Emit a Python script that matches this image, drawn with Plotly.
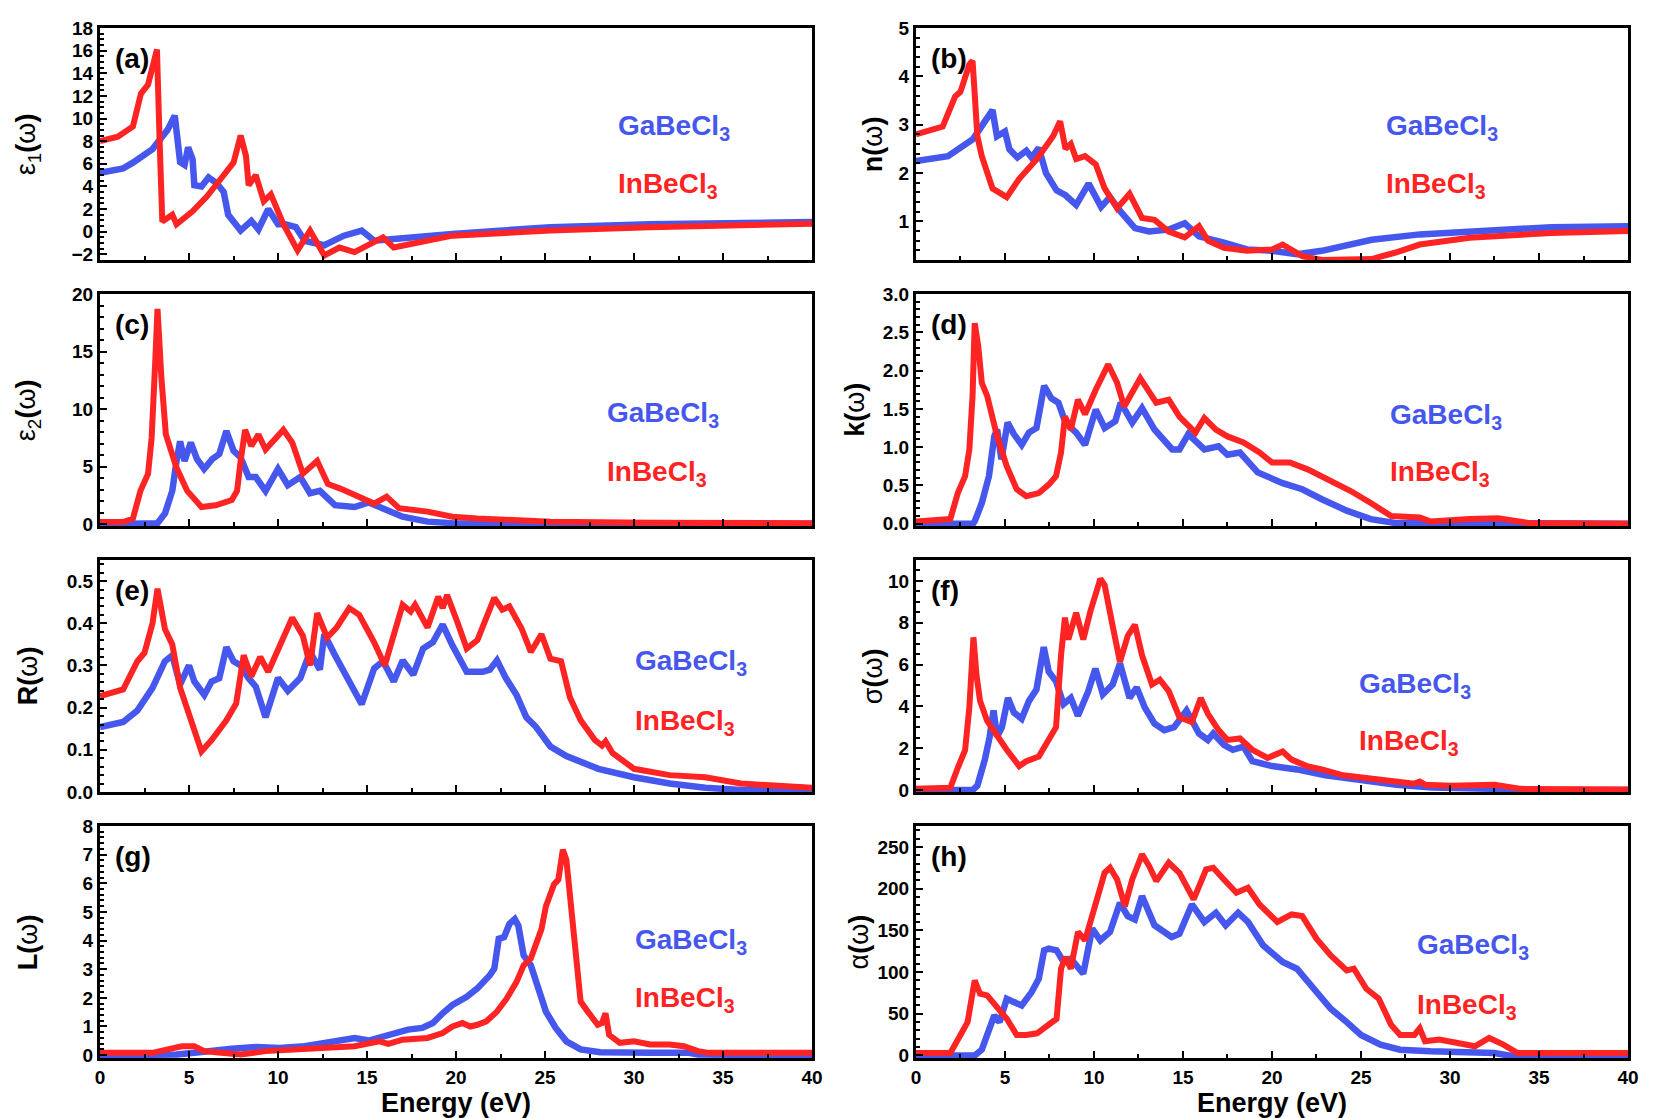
import plotly.graph_objects as go
from plotly.subplots import make_subplots

# (a) epsilon1
a_ga_e = [0, 1.3, 1.85, 2.95, 3.8, 4.2, 4.5, 4.75, 4.95, 5.2, 5.3, 5.7, 6.1, 6.55, 6.95, 7.2, 7.9, 8.5, 8.9, 9.45, 10.0, 10.4, 11.0, 11.5, 12.6, 13.7, 14.7, 15.4, 16.5, 19.8, 25.3, 30.9, 40]
a_ga_v = [5.2, 5.6, 6.1, 7.3, 9.0, 10.25, 6.15, 5.9, 7.45, 6.4, 4.1, 4.0, 4.8, 4.3, 3.5, 1.5, 0.1, 0.95, 0.2, 2.0, 0.65, 0.65, 0.4, -0.8, -1.2, -0.35, 0.1, -0.8, -0.65, -0.2, 0.4, 0.66, 0.85]
a_in_e = [0, 1.0, 1.85, 2.3, 2.7, 2.95, 3.2, 3.35, 3.5, 4.06, 4.3, 5.2, 6.0, 6.8, 7.5, 7.9, 8.2, 8.35, 8.75, 9.2, 9.6, 10.3, 11.1, 11.8, 12.6, 13.45, 14.3, 15.9, 16.5, 19.8, 25.3, 30.9, 38.3, 40]
a_in_v = [8.0, 8.4, 9.3, 12.2, 13.0, 14.5, 16.1, 8.0, 0.9, 1.5, 0.66, 1.8, 3.1, 4.7, 6.1, 8.5, 6.7, 4.1, 5.0, 2.7, 3.3, 0.66, -1.65, 0.1, -2.1, -1.4, -1.8, -0.5, -1.4, -0.35, 0.1, 0.4, 0.66, 0.7]

# (b) n
b_ga_e = [0, 1.8, 3.2, 4.0, 4.3, 4.55, 5.0, 5.25, 5.7, 6.2, 6.5, 6.9, 7.3, 7.9, 8.4, 9.0, 9.7, 10.4, 10.9, 11.5, 12.3, 13.1, 14.2, 15.1, 15.9, 17.3, 18.6, 20.0, 21.4, 22.8, 24.2, 25.6, 28.3, 31.1, 35.7, 40]
b_ga_v = [2.25, 2.35, 2.7, 3.17, 3.3, 2.76, 2.86, 2.49, 2.32, 2.46, 2.32, 2.52, 2.0, 1.64, 1.54, 1.34, 1.78, 1.3, 1.5, 1.2, 0.86, 0.79, 0.83, 0.96, 0.69, 0.56, 0.42, 0.39, 0.32, 0.39, 0.52, 0.62, 0.73, 0.79, 0.88, 0.9]
b_in_e = [0, 1.5, 2.2, 2.5, 3.0, 3.18, 3.3, 3.45, 3.7, 4.3, 5.1, 5.8, 6.8, 7.7, 8.1, 8.4, 8.7, 9.0, 9.5, 10.1, 10.6, 11.3, 12.0, 12.7, 13.4, 14.2, 15.1, 15.9, 16.4, 17.3, 18.6, 20.0, 20.6, 21.7, 22.8, 24.2, 25.6, 26.9, 28.3, 31.1, 35.7, 40]
b_in_v = [2.8, 2.96, 3.58, 3.68, 4.25, 4.32, 3.64, 2.76, 2.35, 1.68, 1.5, 1.88, 2.29, 2.76, 3.07, 2.5, 2.6, 2.29, 2.35, 2.18, 1.68, 1.27, 1.57, 1.07, 1.03, 0.79, 0.67, 0.9, 0.6, 0.45, 0.39, 0.42, 0.52, 0.28, 0.2, 0.22, 0.22, 0.35, 0.52, 0.66, 0.76, 0.8]

# (c) epsilon2
c_ga_e = [0, 3.0, 3.23, 3.65, 4.06, 4.3, 4.5, 4.75, 5.1, 5.45, 5.85, 6.3, 6.7, 7.1, 7.5, 7.9, 8.35, 8.75, 9.3, 10.0, 10.55, 11.25, 11.8, 12.35, 13.2, 14.3, 15.1, 15.9, 17.0, 18.4, 19.8, 25.0, 40]
c_ga_v = [0.0, 0.0, 0.1, 0.94, 2.9, 5.5, 7.2, 5.5, 7.1, 5.66, 4.8, 5.66, 6.1, 8.1, 6.4, 5.8, 4.1, 4.1, 2.9, 4.8, 3.4, 4.1, 2.7, 2.9, 1.66, 1.5, 1.9, 1.37, 0.66, 0.23, 0.1, 0.05, 0.05]
c_in_e = [0, 1.3, 1.85, 2.27, 2.7, 2.9, 3.1, 3.23, 3.45, 3.7, 4.3, 4.9, 5.7, 6.5, 7.4, 7.7, 7.9, 8.15, 8.5, 8.9, 9.3, 10.3, 10.8, 11.4, 12.2, 12.8, 13.5, 14.3, 15.4, 16.1, 16.8, 18.4, 19.8, 21.2, 22.6, 25.3, 30.9, 40]
c_in_v = [0.2, 0.2, 0.5, 2.9, 4.4, 7.5, 14.0, 18.7, 12.7, 7.8, 4.9, 2.9, 1.5, 1.65, 2.1, 2.9, 5.5, 8.2, 6.8, 7.8, 6.5, 8.2, 7.1, 4.4, 5.5, 3.5, 3.1, 2.5, 1.8, 2.4, 1.4, 1.1, 0.66, 0.5, 0.37, 0.23, 0.14, 0.1]

# (d) k
d_ga_e = [0, 3.2, 3.3, 3.7, 4.1, 4.4, 4.56, 4.8, 5.15, 5.5, 5.94, 6.35, 6.77, 7.2, 7.6, 8.0, 8.4, 9.0, 9.5, 10.1, 10.6, 11.2, 11.5, 12.15, 12.7, 13.4, 14.4, 14.8, 15.3, 16.2, 17.0, 17.5, 18.2, 19.2, 20.6, 21.7, 22.8, 24.2, 25.55, 26.9, 40]
d_ga_v = [0.0, 0.0, 0.03, 0.27, 0.62, 1.14, 1.23, 0.84, 1.32, 1.17, 1.03, 1.19, 1.25, 1.8, 1.64, 1.58, 1.32, 1.19, 1.03, 1.49, 1.25, 1.34, 1.58, 1.32, 1.51, 1.23, 0.97, 0.97, 1.17, 0.97, 1.01, 0.9, 0.93, 0.67, 0.53, 0.45, 0.32, 0.17, 0.06, 0.01, 0.0]
d_in_e = [0, 1.93, 2.35, 2.76, 3.0, 3.18, 3.3, 3.5, 3.7, 4.0, 4.56, 5.1, 5.66, 6.2, 6.9, 7.46, 7.87, 8.15, 8.37, 8.7, 9.1, 9.5, 10.1, 10.8, 11.3, 11.7, 12.6, 13.5, 14.2, 14.8, 15.7, 16.2, 16.85, 17.5, 18.4, 19.3, 20.0, 21.0, 22.0, 23.1, 24.4, 25.55, 26.7, 28.3, 28.9, 31.1, 32.7, 34.4, 40]
d_in_v = [0.03, 0.06, 0.4, 0.62, 0.97, 1.67, 2.62, 2.32, 1.84, 1.67, 1.14, 0.75, 0.45, 0.36, 0.4, 0.51, 0.62, 0.93, 1.4, 1.23, 1.62, 1.43, 1.75, 2.08, 1.84, 1.53, 1.9, 1.58, 1.62, 1.4, 1.19, 1.38, 1.23, 1.14, 1.06, 0.93, 0.8, 0.8, 0.71, 0.58, 0.43, 0.27, 0.1, 0.08, 0.03, 0.06, 0.07, 0.01, 0.0]

# (e) R
e_ga_e = [0, 1.3, 2.1, 2.95, 3.65, 4.06, 4.5, 5.0, 5.3, 5.86, 6.27, 6.7, 7.1, 7.5, 7.9, 8.34, 8.75, 9.3, 10.0, 10.55, 11.25, 11.8, 12.35, 12.6, 13.2, 14.0, 14.7, 15.4, 15.9, 16.5, 17.0, 17.6, 18.15, 18.7, 19.25, 19.8, 20.6, 21.5, 21.9, 22.3, 22.8, 23.4, 23.95, 24.5, 25.3, 26.2, 27.0, 28.0, 30.0, 32.0, 34.0, 36.0, 40]
e_ga_v = [0.154, 0.166, 0.193, 0.247, 0.31, 0.324, 0.255, 0.30, 0.262, 0.23, 0.262, 0.27, 0.343, 0.31, 0.30, 0.27, 0.25, 0.177, 0.27, 0.24, 0.27, 0.332, 0.29, 0.374, 0.324, 0.262, 0.208, 0.293, 0.31, 0.262, 0.312, 0.278, 0.34, 0.355, 0.397, 0.347, 0.285, 0.285, 0.29, 0.312, 0.27, 0.23, 0.177, 0.154, 0.108, 0.085, 0.07, 0.055, 0.035, 0.02, 0.01, 0.005, 0.005]
e_in_e = [0, 1.3, 2.1, 2.5, 2.95, 3.23, 3.65, 4.06, 4.5, 5.2, 5.7, 6.27, 7.1, 7.65, 8.07, 8.5, 9.0, 9.45, 10.0, 10.8, 11.4, 11.8, 12.2, 12.76, 13.3, 14.0, 14.56, 15.4, 16.0, 16.5, 17.0, 17.45, 17.7, 18.4, 19.0, 19.25, 19.5, 20.1, 20.6, 21.2, 21.6, 22.15, 22.6, 23.0, 23.7, 24.2, 24.8, 25.3, 25.9, 26.4, 27.0, 27.8, 28.2, 28.4, 28.8, 30.0, 32.0, 34.0, 36.0, 38.0, 40]
e_in_v = [0.227, 0.243, 0.31, 0.33, 0.40, 0.482, 0.386, 0.35, 0.247, 0.154, 0.096, 0.123, 0.17, 0.21, 0.324, 0.274, 0.32, 0.285, 0.34, 0.413, 0.37, 0.30, 0.424, 0.366, 0.39, 0.436, 0.42, 0.355, 0.30, 0.378, 0.444, 0.428, 0.444, 0.39, 0.463, 0.436, 0.467, 0.40, 0.34, 0.36, 0.40, 0.46, 0.432, 0.44, 0.386, 0.332, 0.374, 0.316, 0.31, 0.224, 0.17, 0.123, 0.11, 0.12, 0.092, 0.055, 0.04, 0.035, 0.02, 0.015, 0.01]

# (f) sigma
f_ga_e = [0, 3.2, 3.45, 3.87, 4.14, 4.36, 4.56, 4.83, 5.17, 5.5, 5.94, 6.35, 6.77, 7.18, 7.46, 7.87, 8.29, 8.7, 9.1, 9.67, 10.08, 10.5, 11.05, 11.46, 12.0, 12.4, 12.85, 13.4, 13.95, 14.5, 15.2, 15.9, 16.4, 16.7, 17.3, 17.8, 18.4, 18.9, 20.0, 21.4, 23.0, 25.0, 27.0, 29.0, 31.0, 33.0, 35.0, 40]
f_ga_v = [0.0, 0.0, 0.2, 1.45, 2.54, 3.8, 2.54, 3.0, 4.4, 3.7, 3.4, 4.26, 4.8, 6.83, 5.66, 5.2, 4.1, 4.4, 3.55, 4.7, 5.8, 4.57, 5.04, 6.05, 4.4, 4.9, 3.95, 3.17, 2.86, 3.0, 3.8, 2.7, 2.39, 2.7, 2.15, 1.92, 2.07, 1.37, 1.14, 0.98, 0.7, 0.45, 0.25, 0.12, 0.06, 0.03, 0.0, 0.0]
f_in_e = [0, 1.5, 1.93, 2.35, 2.76, 3.0, 3.23, 3.4, 3.6, 4.0, 4.56, 5.1, 5.8, 6.2, 6.9, 7.46, 7.87, 8.15, 8.37, 8.56, 9.0, 9.4, 9.8, 10.36, 10.6, 11.05, 11.46, 11.9, 12.3, 12.7, 13.26, 13.7, 14.2, 14.8, 15.5, 16.0, 16.4, 17.0, 17.5, 18.2, 18.9, 19.75, 20.6, 21.1, 21.96, 22.8, 24.0, 26.0, 28.0, 28.3, 28.6, 30.0, 32.5, 34.0, 40]
f_in_v = [0.05, 0.05, 0.1, 1.06, 1.9, 3.95, 7.3, 5.5, 4.26, 3.3, 2.54, 1.92, 1.14, 1.37, 1.6, 2.39, 3.0, 6.44, 8.24, 7.2, 8.47, 7.2, 8.55, 10.1, 9.8, 7.85, 6.13, 7.38, 7.9, 6.44, 5.04, 5.27, 4.73, 3.48, 3.25, 4.4, 3.64, 2.86, 2.39, 2.46, 1.92, 1.53, 1.84, 1.45, 1.14, 0.98, 0.7, 0.5, 0.3, 0.4, 0.25, 0.2, 0.25, 0.05, 0.02]

# (g) L
g_ga_e = [0, 3.5, 4.3, 5.3, 6.0, 7.4, 8.76, 10.1, 11.5, 12.9, 14.3, 15.1, 15.9, 16.8, 17.3, 18.1, 18.7, 19.25, 19.8, 20.6, 21.2, 21.9, 22.15, 22.4, 22.7, 23.0, 23.3, 23.5, 23.8, 24.2, 24.6, 25.05, 25.6, 26.2, 27.0, 28.1, 30.9, 33.1, 33.6, 40]
g_ga_v = [0.0, 0.0, 0.02, 0.08, 0.14, 0.22, 0.28, 0.25, 0.31, 0.46, 0.6, 0.51, 0.66, 0.77, 0.89, 0.95, 1.12, 1.46, 1.75, 2.04, 2.33, 2.79, 3.02, 4.06, 4.12, 4.58, 4.75, 4.52, 3.48, 3.14, 2.44, 1.52, 0.95, 0.48, 0.2, 0.1, 0.08, 0.08, 0.02, 0.0]
g_in_e = [0, 2.95, 3.8, 4.6, 5.3, 5.86, 6.8, 7.9, 9.3, 11.0, 12.6, 14.3, 15.7, 16.2, 17.0, 18.4, 19.25, 19.8, 20.36, 20.8, 21.2, 21.7, 22.3, 22.85, 23.4, 23.8, 24.2, 24.8, 25.05, 25.5, 25.75, 26.0, 26.2, 26.4, 26.7, 27.0, 27.4, 27.96, 28.2, 28.4, 28.6, 29.2, 30.0, 30.9, 32.0, 32.8, 33.6, 34.2, 40]
g_in_v = [0.08, 0.08, 0.2, 0.31, 0.31, 0.14, 0.08, 0.02, 0.14, 0.2, 0.25, 0.31, 0.48, 0.39, 0.54, 0.6, 0.77, 1.0, 1.12, 1.0, 1.06, 1.18, 1.52, 1.98, 2.56, 3.14, 3.37, 4.4, 5.2, 5.96, 6.13, 7.17, 6.82, 5.44, 3.48, 1.87, 1.52, 1.06, 1.12, 1.46, 0.71, 0.43, 0.48, 0.37, 0.37, 0.31, 0.14, 0.08, 0.08]

# (h) alpha
h_ga_e = [0, 3.3, 3.7, 4.1, 4.4, 4.7, 5.1, 5.5, 5.94, 6.5, 6.9, 7.2, 7.46, 7.9, 8.3, 8.7, 9.4, 9.9, 10.36, 10.9, 11.46, 11.9, 12.3, 12.7, 13.4, 14.36, 14.8, 15.5, 16.2, 16.85, 17.4, 18.1, 18.65, 19.5, 20.6, 21.4, 22.5, 23.3, 24.2, 25.0, 26.1, 27.2, 28.9, 31.1, 32.5, 33.3, 40]
h_ga_v = [0, 0, 7, 28.6, 48, 40, 68, 64, 60, 76, 92, 126, 128, 126, 112, 116, 98, 152, 138, 148, 183, 167, 163, 191, 156, 142, 146, 181, 160, 171, 156, 171, 160, 132, 112, 104, 76, 56, 40, 24.6, 13, 7, 5, 4, 3, 0, 0]
h_in_e = [0, 1.93, 2.5, 2.9, 3.3, 3.6, 4.0, 4.56, 5.1, 5.66, 6.2, 6.8, 7.46, 7.9, 8.15, 8.4, 8.7, 9.1, 9.5, 10.1, 10.6, 10.9, 11.3, 11.74, 12.15, 12.7, 13.1, 13.5, 14.2, 14.8, 15.6, 16.3, 16.7, 17.3, 18.0, 18.65, 19.3, 20.3, 21.1, 21.7, 22.5, 23.3, 24.2, 24.6, 25.3, 26.0, 26.7, 27.2, 28.0, 28.3, 28.6, 29.4, 30.5, 31.4, 32.2, 33.0, 33.8, 40]
h_in_v = [3, 3, 24.6, 40, 90, 74, 72, 58, 44, 24.6, 24.6, 26.6, 36.5, 44, 104, 118, 104, 148, 138, 183, 219, 225, 211, 179, 211, 241, 227, 209, 231, 219, 187, 223, 225, 211, 195, 201, 181, 160, 169, 167, 140, 120, 102, 104, 80, 68, 36.5, 24.6, 24.6, 32.5, 17, 19, 15, 11, 21, 13, 3, 3]

panels = [
    ("(a)", "ε<sub>1</sub><b>(</b>ω<b>)</b>", a_ga_e, a_ga_v, a_in_e, a_in_v, [-2.5, 18], 2, None),
    ("(b)", "<b>n(</b>ω<b>)</b>", b_ga_e, b_ga_v, b_in_e, b_in_v, [0.2, 5], 1, None),
    ("(c)", "ε<sub>2</sub><b>(</b>ω<b>)</b>", c_ga_e, c_ga_v, c_in_e, c_in_v, [-0.15, 20], 5, None),
    ("(d)", "<b>k(</b>ω<b>)</b>", d_ga_e, d_ga_v, d_in_e, d_in_v, [-0.03, 3.0], 0.5, ".1f"),
    ("(e)", "<b>R(</b>ω<b>)</b>", e_ga_e, e_ga_v, e_in_e, e_in_v, [0.0, 0.55], 0.1, ".1f"),
    ("(f)", "σ<b>(</b>ω<b>)</b>", f_ga_e, f_ga_v, f_in_e, f_in_v, [-0.1, 11], 2, None),
    ("(g)", "<b>L(</b>ω<b>)</b>", g_ga_e, g_ga_v, g_in_e, g_in_v, [-0.1, 8], 1, None),
    ("(h)", "α<b>(</b>ω<b>)</b>", h_ga_e, h_ga_v, h_in_e, h_in_v, [-3, 275], 50, None),
]

# legend text position inside each panel (x domain fraction, y domain fraction for Ga / In)
leg_pos = [(0.725, 0.57, 0.32), (0.657, 0.57, 0.32), (0.709, 0.48, 0.225), (0.663, 0.47, 0.225),
           (0.748, 0.56, 0.30), (0.619, 0.46, 0.215), (0.748, 0.50, 0.25), (0.701, 0.48, 0.22)]
# y title x position (paper)
ytitle_x = [-0.047, 0.506, -0.047, 0.494, -0.047, 0.506, -0.047, 0.497]

BLUE = "#4657ee"
RED = "#ff2424"

fig = make_subplots(rows=4, cols=2, horizontal_spacing=0.068, vertical_spacing=0.033)

for i, (lab, ytitle, ge, gv, ie, iv, yr, dt, fmt) in enumerate(panels):
    r = i // 2 + 1
    c = i % 2 + 1
    fig.add_trace(go.Scatter(x=ge, y=gv, mode="lines", line=dict(color=BLUE, width=6.5),
                             showlegend=False), row=r, col=c)
    fig.add_trace(go.Scatter(x=ie, y=iv, mode="lines", line=dict(color=RED, width=6),
                             showlegend=False), row=r, col=c)
    fig.update_yaxes(range=yr, dtick=dt, tickformat=fmt, row=r, col=c)
    fig.update_xaxes(range=[0, 40], dtick=5, row=r, col=c, showticklabels=(r == 4))
    if r == 4:
        fig.update_xaxes(title=dict(text="<b>Energy (eV)</b>", font=dict(size=27, color="black"), standoff=6),
                         row=r, col=c)
    xref = "x" + ("" if i == 0 else str(i + 1))
    yref = "y" + ("" if i == 0 else str(i + 1))
    dom = fig.layout["yaxis" + ("" if i == 0 else str(i + 1))].domain
    fig.add_annotation(text=ytitle, xref="paper", yref="paper", x=ytitle_x[i],
                       y=(dom[0] + dom[1]) / 2, textangle=-90, showarrow=False,
                       xanchor="center", yanchor="middle", font=dict(size=27, color="black"))
    fig.add_annotation(text="<b>" + lab + "</b>", xref=xref + " domain", yref=yref + " domain",
                       x=0.018, y=0.87, xanchor="left", yanchor="middle", showarrow=False,
                       font=dict(size=28, color="black"))
    lx, gy, iy = leg_pos[i]
    fig.add_annotation(text="<b>GaBeCl<sub>3</sub></b>", xref=xref + " domain", yref=yref + " domain",
                       x=lx, y=gy, xanchor="left", yanchor="middle", showarrow=False,
                       font=dict(size=28, color=BLUE))
    fig.add_annotation(text="<b>InBeCl<sub>3</sub></b>", xref=xref + " domain", yref=yref + " domain",
                       x=lx, y=iy, xanchor="left", yanchor="middle", showarrow=False,
                       font=dict(size=28, color=RED))

fig.update_xaxes(showline=True, linewidth=3, linecolor="black", mirror=True, ticks="inside",
                 ticklen=7, tickwidth=2, tickcolor="black", showgrid=False, zeroline=False,
                 tickfont=dict(size=19, color="black", weight="bold"),
                 minor=dict(ticks="inside", ticklen=4, tickwidth=2, tickcolor="black", dtick=2.5))
fig.update_yaxes(showline=True, linewidth=3, linecolor="black", mirror=True, ticks="inside",
                 ticklen=7, tickwidth=2, tickcolor="black", showgrid=False, zeroline=False,
                 tickfont=dict(size=19, color="black", weight="bold"),
                 minor=dict(ticks="inside", ticklen=4, tickwidth=2, tickcolor="black"))

fig.update_layout(width=1654, height=1118, plot_bgcolor="white", paper_bgcolor="white",
                  margin=dict(l=92, r=34, t=10, b=68),
                  font=dict(family="Liberation Sans, Arial, sans-serif", color="black"))

fig.write_html("out.html")
